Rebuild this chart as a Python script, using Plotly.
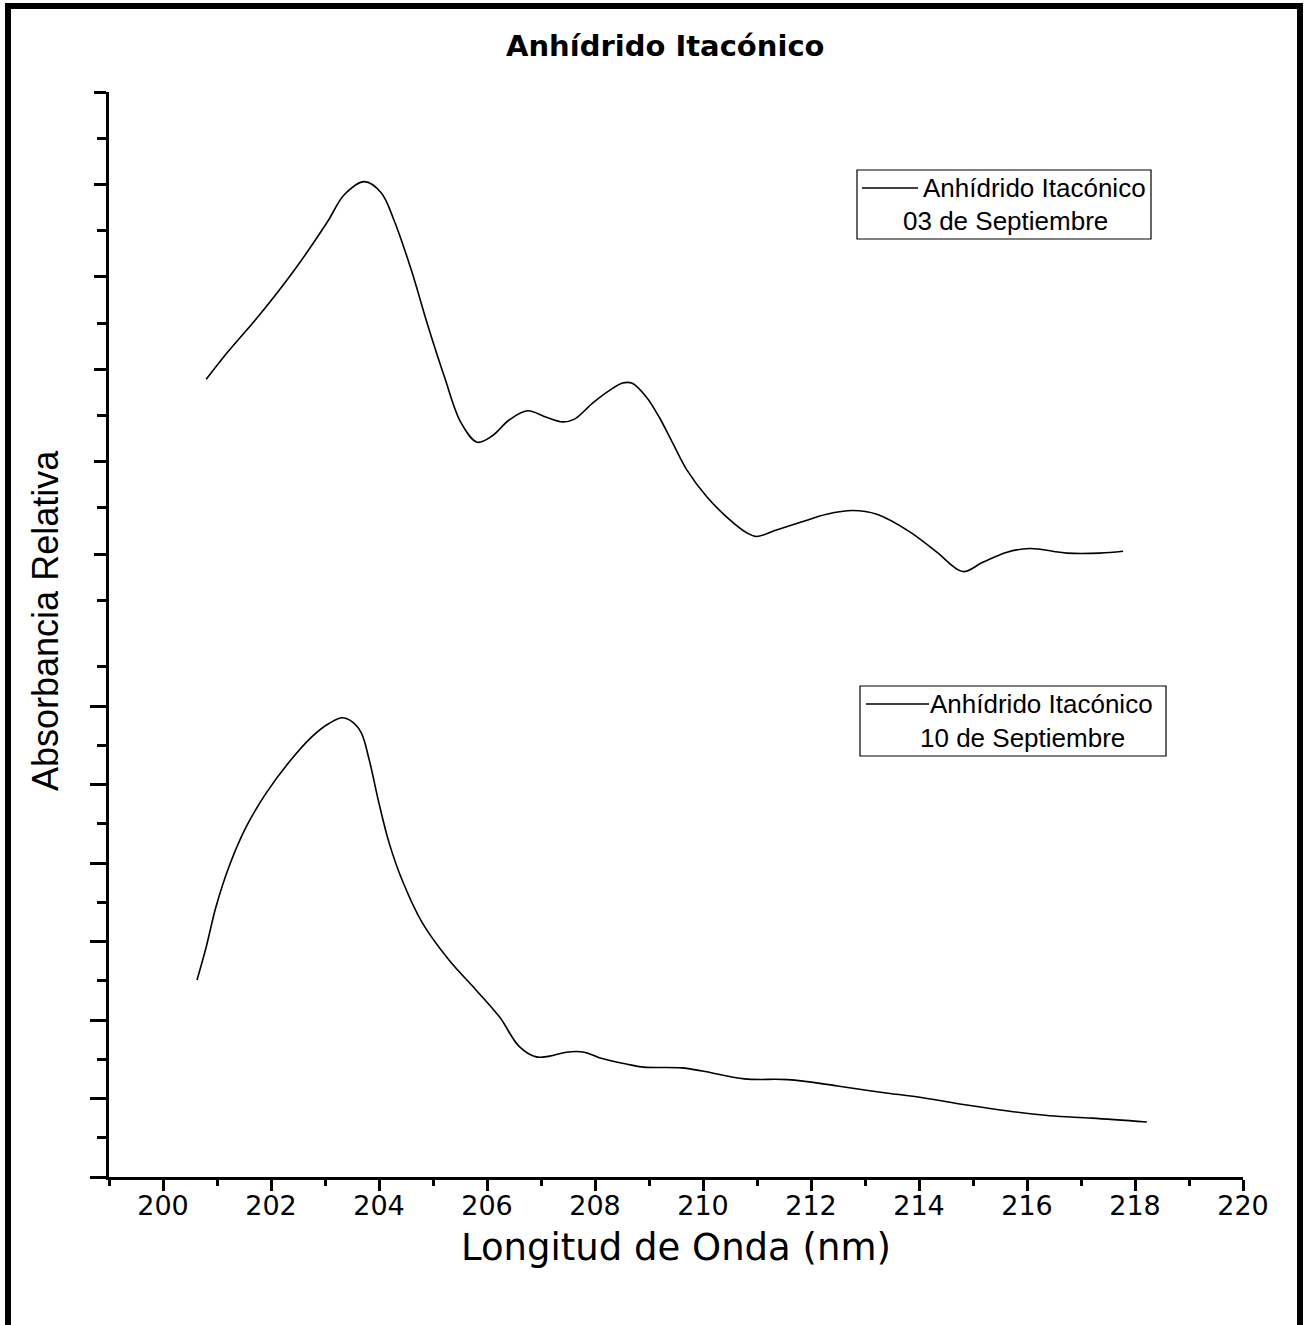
import plotly.graph_objects as go

# ---- data ----
wl_sep03 = [200.80, 201.19, 201.82, 202.43, 203.04, 203.36, 203.73, 204.04, 204.28, 204.60,
            204.89, 205.21, 205.52, 205.82, 206.10, 206.41, 206.75, 207.10, 207.40, 207.62,
            207.95, 208.27, 208.51, 208.68, 208.95, 209.19, 209.44, 209.70, 210.07, 210.44,
            210.81, 210.99, 211.36, 211.79, 212.29, 212.77, 213.22, 213.83, 214.33, 214.81,
            215.18, 215.63, 216.05, 216.74, 217.35, 217.78]
abs_sep03 = [2.89, 3.18, 3.61, 4.07, 4.59, 4.89, 5.03, 4.91, 4.61, 4.07,
             3.50, 2.92, 2.42, 2.21, 2.28, 2.45, 2.55, 2.48, 2.43, 2.46,
             2.63, 2.77, 2.85, 2.85, 2.70, 2.48, 2.20, 1.91, 1.62, 1.40,
             1.23, 1.19, 1.26, 1.34, 1.43, 1.47, 1.43, 1.24, 1.02, 0.81,
             0.91, 1.02, 1.06, 1.01, 1.01, 1.03]

wl_sep10 = [200.63, 200.80, 200.98, 201.22, 201.54, 201.91, 202.34, 202.76, 203.08, 203.32,
            203.50, 203.67, 203.82, 204.00, 204.19, 204.43, 204.80, 205.30, 205.80, 206.23,
            206.60, 206.91, 207.16, 207.47, 207.80, 208.08, 208.58, 208.90, 209.60, 209.99,
            210.77, 211.57, 212.49, 213.29, 214.07, 214.85, 215.65, 216.42, 217.20, 218.22]
abs_sep10 = [2.51, 2.93, 3.44, 3.95, 4.46, 4.89, 5.29, 5.61, 5.78, 5.85,
             5.80, 5.66, 5.31, 4.76, 4.25, 3.78, 3.24, 2.76, 2.38, 2.04,
             1.66, 1.53, 1.54, 1.59, 1.59, 1.52, 1.44, 1.40, 1.39, 1.35,
             1.25, 1.24, 1.16, 1.08, 1.01, 0.92, 0.84, 0.78, 0.75, 0.70]

x_ticks = [200, 202, 204, 206, 208, 210, 212, 214, 216, 218, 220]
title_text = "Anhídrido Itacónico"
legend_top = ["Anhídrido Itacónico", "03 de Septiembre"]
legend_bottom = ["Anhídrido Itacónico", "10 de Septiembre"]
x_title = "Longitud de Onda (nm)"
y_title = "Absorbancia Relativa"

# ---- layout geometry (pixels) ----
W, H = 1304, 1325
L, R, T, B = 109, 1243, 92, 1177


def px(xp):
    return (xp - L) / (R - L)


def py(yp):
    return (B - yp) / (B - T)


split = py(632)

fig = go.Figure()
fig.add_trace(go.Scatter(x=wl_sep03, y=abs_sep03, xaxis="x", yaxis="y2", mode="lines",
                         line=dict(color="black", width=1.6, shape="spline", smoothing=1.0),
                         showlegend=False, hoverinfo="skip"))
fig.add_trace(go.Scatter(x=wl_sep10, y=abs_sep10, xaxis="x", yaxis="y", mode="lines",
                         line=dict(color="black", width=1.6, shape="spline", smoothing=1.0),
                         showlegend=False, hoverinfo="skip"))

fig.update_layout(
    width=W, height=H,
    margin=dict(l=L, r=W - R, t=T, b=H - B, pad=0),
    paper_bgcolor="white", plot_bgcolor="white",
    xaxis=dict(domain=[0, 1], range=[199, 220], anchor="y",
               showline=True, linecolor="black", linewidth=3,
               showgrid=False, zeroline=False,
               ticks="outside", ticklen=11, tickwidth=3, tickcolor="black",
               tickmode="array", tickvals=x_ticks, ticktext=[str(v) for v in x_ticks],
               tickfont=dict(family="DejaVu Sans", size=27, color="black"),
               ticklabelstandoff=-8,
               minor=dict(ticks="outside", ticklen=6, tickwidth=3, tickcolor="black",
                          tickmode="linear", tick0=199, dtick=2, showgrid=False)),
    yaxis=dict(domain=[0, split], range=[0, (B - 632) / 78.5], anchor="x",
               showline=True, linecolor="black", linewidth=3,
               showgrid=False, zeroline=False, showticklabels=False,
               ticks="outside", ticklen=16, tickwidth=3, tickcolor="black",
               tickmode="linear", tick0=0, dtick=1,
               minor=dict(ticks="outside", ticklen=9, tickwidth=3, tickcolor="black",
                          tickmode="linear", tick0=0.5, dtick=1, showgrid=False)),
    yaxis2=dict(domain=[split, 1], range=[6 - (632 - 92) / 92.4, 6], anchor="x",
                showline=True, linecolor="black", linewidth=3,
                showgrid=False, zeroline=False, showticklabels=False,
                ticks="outside", ticklen=12, tickwidth=3, tickcolor="black",
                tickmode="linear", tick0=0, dtick=1,
                minor=dict(ticks="outside", ticklen=9, tickwidth=3, tickcolor="black",
                           tickmode="linear", tick0=0.5, dtick=1, showgrid=False)),
)

shapes = []
annotations = []

# outer frame
shapes.append(dict(type="rect", xref="paper", yref="paper",
                   x0=px(8), x1=px(1300), y0=py(1335), y1=py(6),
                   line=dict(color="black", width=6), fillcolor="rgba(0,0,0,0)", layer="above"))

# title
annotations.append(dict(text="<b>" + title_text + "</b>", xref="paper", yref="paper",
                        x=px(665), y=py(46), xanchor="center", yanchor="middle",
                        showarrow=False, font=dict(family="DejaVu Sans", size=29, color="black")))

# axis titles
annotations.append(dict(text=x_title, xref="paper", yref="paper",
                        x=px(676), y=py(1247), xanchor="center", yanchor="middle",
                        showarrow=False, font=dict(family="DejaVu Sans", size=37, color="black")))
annotations.append(dict(text=y_title, xref="paper", yref="paper",
                        x=px(45), y=py(621), xanchor="center", yanchor="middle", textangle=-90,
                        showarrow=False, font=dict(family="Liberation Sans", size=36, color="black")))


def add_legend(x0, x1, y0, y1, line_x0, line_x1, line_y, t1x, t1y, t2x, t2y, lines):
    shapes.append(dict(type="rect", xref="paper", yref="paper",
                       x0=px(x0), x1=px(x1), y0=py(y1), y1=py(y0),
                       line=dict(color="black", width=1.2), fillcolor="white", layer="above"))
    shapes.append(dict(type="line", xref="paper", yref="paper",
                       x0=px(line_x0), x1=px(line_x1), y0=py(line_y), y1=py(line_y),
                       line=dict(color="black", width=1.3), layer="above"))
    annotations.append(dict(text=lines[0], xref="paper", yref="paper",
                            x=px(t1x), y=py(t1y), xanchor="left", yanchor="middle",
                            showarrow=False, font=dict(family="Liberation Sans", size=26, color="black")))
    annotations.append(dict(text=lines[1], xref="paper", yref="paper",
                            x=px(t2x), y=py(t2y), xanchor="center", yanchor="middle",
                            showarrow=False, font=dict(family="Liberation Sans", size=26, color="black")))


add_legend(857, 1151, 170, 239, 862, 918, 188, 921, 188, 1005, 221, legend_top)
add_legend(860, 1166, 686, 756, 866, 929, 704, 928, 704, 1022, 738, legend_bottom)

fig.update_layout(shapes=shapes, annotations=annotations)

fig.write_html("out.html")
